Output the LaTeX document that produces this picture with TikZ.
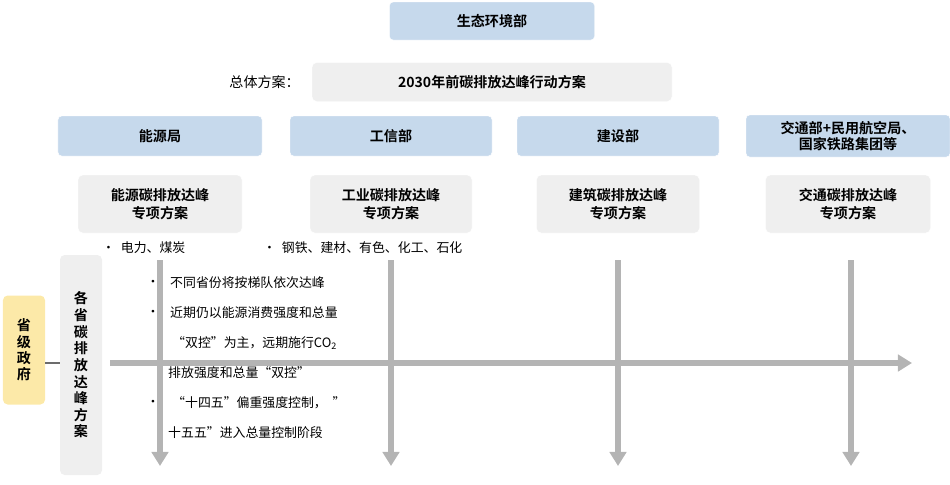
\documentclass[tikz,border=0pt]{standalone}
\usepackage{fontspec}
\setmainfont{Noto Sans CJK SC}
\newfontfamily\cjkbold{Noto Sans CJK SC Bold}
\usetikzlibrary{arrows.meta,positioning}
\definecolor{deptblue}{HTML}{C6D9EC}
\definecolor{plangray}{HTML}{EFEFEF}
\definecolor{provyellow}{HTML}{FCE9A8}
\definecolor{arrowgray}{HTML}{B4B4B4}
\tikzset{
    dept/.style={draw=white, fill=deptblue, rounded corners=3pt, inner sep=0pt, font=\cjkbold\fontsize{12}{14}\selectfont, align=center},
    plan/.style={draw=white, fill=plangray, rounded corners=4pt, inner sep=0pt, font=\cjkbold\fontsize{12}{15}\selectfont, align=center},
    flow/.style={-{Triangle[length=12pt, width=14pt]}, line width=5pt, arrowgray},
    note/.style={anchor=west, inner sep=0pt, font=\fontsize{11}{13}\selectfont},
    dot/.style={anchor=center, inner sep=0pt, font=\fontsize{11}{13}\selectfont}
}

\begin{document}
\begin{tikzpicture}[x=0.3mm, y=-0.3mm]
    \useasboundingbox (0,0) rectangle (950,484);
    % ministries and national plan
    \node[dept, minimum width=61.5mm, minimum height=11.4mm] (mee) at (492,21) {生态环境部};
    \node[anchor=east, inner sep=0pt, font=\fontsize{12}{14}\selectfont] (overall) at (300,82) {总体方案：};
    \node[plan, minimum width=108mm, minimum height=11.7mm] (national) at (492,82) {2030年前碳排放达峰行动方案};

    \node[dept, minimum width=61.2mm, minimum height=12mm] (energy) at (160,136) {能源局};
    \node[dept, minimum width=60.6mm, minimum height=12mm] (miit) at (391,136) {工信部};
    \node[dept, minimum width=60.6mm, minimum height=12mm] (mohurd) at (618,136) {建设部};
    \node[dept, minimum width=61.2mm, minimum height=12.6mm] (transport) at (848,136) {交通部+民用航空局、\\国家铁路集团等};

    \node[plan, minimum width=49.2mm, minimum height=17.4mm] (pEnergy) at (160,204) {能源碳排放达峰\\专项方案};
    \node[plan, minimum width=48.6mm, minimum height=17.4mm] (pIndustry) at (391,204) {工业碳排放达峰\\专项方案};
    \node[plan, minimum width=48.9mm, minimum height=17.4mm] (pBuilding) at (618,204) {建筑碳排放达峰\\专项方案};
    \node[plan, minimum width=49.5mm, minimum height=17.4mm] (pTransport) at (848,204) {交通碳排放达峰\\专项方案};

    \node[note] (secEnergy) at (102,248) {•\ \ 电力、煤炭};
    \node[note] (secIndustry) at (263,248) {•\ \ 钢铁、建材、有色、化工、石化};

    % sector arrows
    \coordinate (aTop1) at (160,260); \coordinate (aEnd1) at (160,466);
    \coordinate (aTop2) at (391,260); \coordinate (aEnd2) at (391,466);
    \coordinate (aTop3) at (618,260); \coordinate (aEnd3) at (618,466);
    \coordinate (aTop4) at (851,260); \coordinate (aEnd4) at (851,466);
    \foreach \i in {1,...,4}
        \draw[flow] (aTop\i) -- (aEnd\i);

    % provincial level
    \node[fill=provyellow, rounded corners=4pt, minimum width=12.6mm, minimum height=32.7mm, inner sep=0pt,
          align=center, font=\cjkbold\fontsize{12}{14}\selectfont] (prov) at (24,350) {省\\级\\政\\府};
    \node[fill=plangray, rounded corners=4pt, minimum width=12.6mm, minimum height=66mm, inner sep=0pt,
          align=center, font=\cjkbold\fontsize{12}{14.2}\selectfont] (provPlan) at (81,365) {各\\省\\碳\\排\\放\\达\\峰\\方\\案};
    \draw[line width=1pt, arrowgray!60!black] (prov.east |- 0,363) -- (provPlan.west |- 0,363);
    \coordinate (hStart) at (110,363);
    \coordinate (hEnd) at (912,363);
    \draw[flow] (hStart) -- (hEnd);

    % provincial notes
    \node[dot] (b1) at (153,283) {•};
    \node[note] (n1) at (170,283) {不同省份将按梯队依次达峰};
    \node[dot] (b2) at (153,313) {•};
    \node[note] (n2) at (170,313) {近期仍以能源消费强度和总量};
    \node[note] (n3) at (172,343) {“双控”为主，远期施行CO\textsubscript{2}};
    \node[note] (n4) at (168,373) {排放强度和总量“双控”};
    \node[dot] (b5) at (153,403) {•};
    \node[note] (n5) at (172,403) {“十四五”偏重强度控制，\ \ ”};
    \node[note] (n6) at (168,433) {十五五”进入总量控制阶段};
\end{tikzpicture}
\end{document}
